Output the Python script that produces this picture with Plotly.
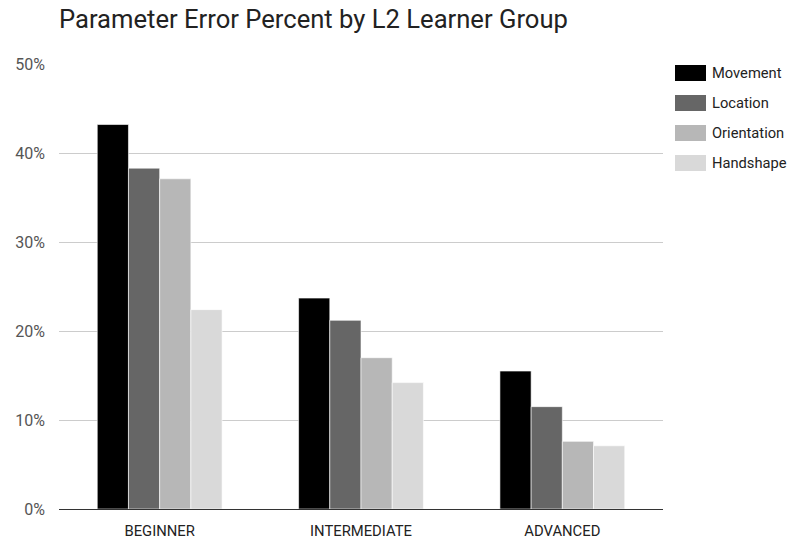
import plotly.graph_objects as go

categories = ["BEGINNER", "INTERMEDIATE", "ADVANCED"]
series_names = ["Movement", "Location", "Orientation", "Handshape"]
movement = [0.432, 0.237, 0.155]
location = [0.383, 0.212, 0.115]
orientation = [0.371, 0.170, 0.076]
handshape = [0.224, 0.142, 0.071]
series_values = [movement, location, orientation, handshape]
colors = ["#000000", "#666666", "#b7b7b7", "#d9d9d9"]
y_ticks = [0, 0.1, 0.2, 0.3, 0.4, 0.5]
y_tick_labels = ["0%", "10%", "20%", "30%", "40%", "50%"]

FONT = "Roboto, Arial, sans-serif"
W, H = 787, 543
ml, mr, mt, mb = 59, 124, 64, 34

fig = go.Figure()
for name, vals, col in zip(series_names, series_values, colors):
    fig.add_trace(go.Bar(
        x=categories, y=vals, name=name,
        marker=dict(color=col, line=dict(color="#ffffff", width=0.6)),
        showlegend=False,
        hovertemplate="%{x}<br>" + name + ": %{y:.1%}<extra></extra>",
    ))

# custom legend (large swatches as in the reference)
shapes = []
annotations = []
pw = W - ml - mr
ph = H - mt - mb
for i, (name, col) in enumerate(zip(series_names, colors)):
    cy = 73 + 30 * i
    x0 = (675 - ml) / pw
    x1 = (706 - ml) / pw
    y0 = (H - mb - (cy + 8)) / ph
    y1 = (H - mb - (cy - 8)) / ph
    shapes.append(dict(type="rect", xref="paper", yref="paper",
                       x0=x0, x1=x1, y0=y0, y1=y1,
                       fillcolor=col, line=dict(width=0)))
    annotations.append(dict(xref="paper", yref="paper",
                            x=(710 - ml) / pw, y=(H - mb - cy) / ph,
                            text=name, showarrow=False,
                            xanchor="left", yanchor="middle",
                            font=dict(family=FONT, size=14.7, color="#222222")))

fig.update_layout(
    width=W, height=H,
    margin=dict(l=ml, r=mr, t=mt, b=mb),
    paper_bgcolor="white", plot_bgcolor="white",
    title=dict(text="Parameter Error Percent by L2 Learner Group",
               x=59 / W, xanchor="left", y=1 - 19 / H, yanchor="middle",
               font=dict(family=FONT, size=25.6, color="#222222")),
    barmode="group", bargap=0.38, bargroupgap=0.0,
    shapes=shapes, annotations=annotations,
    font=dict(family=FONT, size=15, color="#444444"),
)
fig.update_xaxes(
    tickfont=dict(family=FONT, size=14.8, color="#222222"),
    showgrid=False, showline=False, ticks="", ticklabelstandoff=11,
    automargin=False,
)
fig.update_yaxes(
    range=[0, 0.5], tickvals=y_ticks, ticktext=y_tick_labels,
    tickfont=dict(family=FONT, size=16, color="#555555"),
    showgrid=True, gridcolor="#cccccc", gridwidth=1,
    zeroline=True, zerolinecolor="#333333", zerolinewidth=1,
    showline=False, ticks="", ticklabelstandoff=13,
    automargin=False,
)

fig.write_html("out.html")
